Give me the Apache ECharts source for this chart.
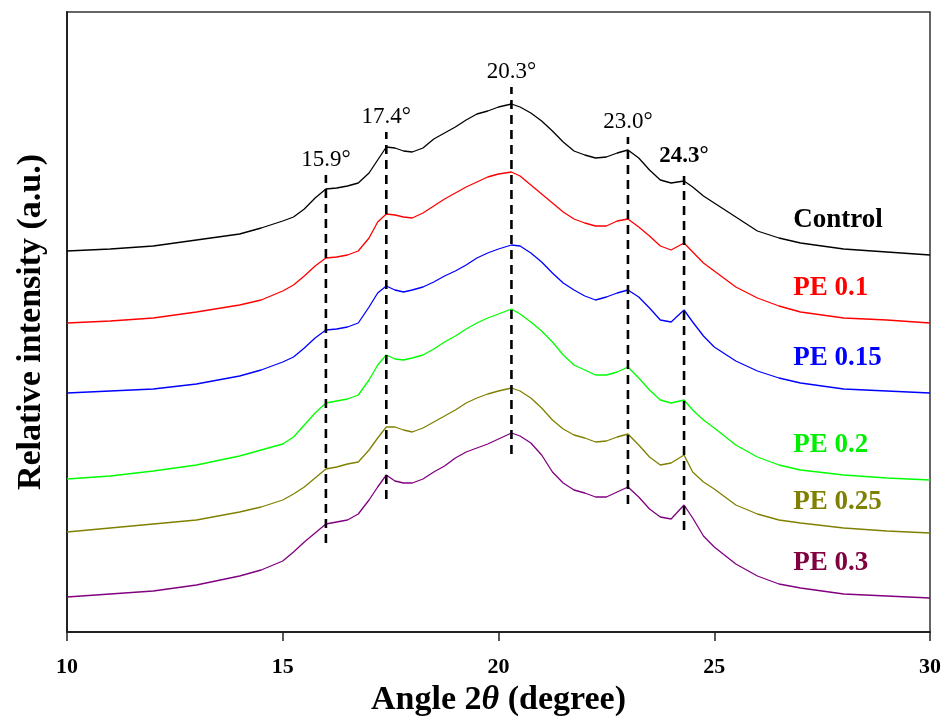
<!DOCTYPE html>
<html>
<head>
<meta charset="utf-8">
<style>html,body{margin:0;padding:0;background:#fff;}#chart{width:944px;height:718px;}</style>
<script src="https://cdn.jsdelivr.net/npm/echarts@6/dist/echarts.min.js"></script>
</head>
<body>
<div id="chart"></div>
<script>
// 2θ positions (degree)
var angles = [10,11,12,13,14,14.5,15,15.25,15.5,15.75,16,16.25,16.5,16.75,17,17.2,17.4,17.6,17.8,18,18.25,18.5,18.75,19,19.25,19.5,19.75,20,20.3,20.5,20.75,21,21.25,21.5,21.75,22,22.25,22.5,22.75,23,23.25,23.5,23.75,24,24.3,24.5,24.75,25,25.5,26,26.5,27,28,29,30];
// relative intensity (a.u., stacked offsets included)
var control = [381,383,386,392,398,404,411,415,423,434,443,444,446,449,459,472,485,484,481,480,484,493,499,505,512,518,521,525,528,525,519,511,501,490,481,477,474,475,479,482,474,462,452,449,451,445,436,429,415,401,394,389,383,380,377];
var pe01 = [309,311,314,320,327,332,341,347,356,366,374,375,377,381,394,410,418,417,415,414,419,426,433,439,445,450,455,458,460,456,447,438,429,420,413,409,406,406,411,413,405,396,386,382,389,380,369,361,345,334,326,320,314,312,309];
var pe015 = [239,241,243,248,256,262,270,275,284,294,302,303,305,309,325,339,346,342,340,342,345,350,356,361,367,374,379,383,387,386,379,370,359,349,342,336,332,335,339,342,335,324,312,310,322,310,296,285,271,261,254,249,243,241,239];
var pe02 = [153,156,161,167,176,182,188,195,207,219,229,231,233,237,252,267,277,273,272,274,277,283,290,296,303,309,314,318,323,318,310,301,290,277,267,262,257,257,260,265,254,242,232,229,232,222,212,204,187,175,167,162,157,154,152];
var pe025 = [100,104,108,112,120,125,132,138,145,154,163,165,168,170,182,194,205,205,202,200,204,210,216,222,229,234,238,241,244,241,234,224,212,203,197,194,190,191,195,198,187,175,167,169,177,160,150,143,127,118,112,109,104,101,99];
var pe03 = [35,38,41,47,56,62,71,80,90,99,108,110,112,118,132,145,157,151,149,149,153,160,166,174,180,184,188,193,199,196,189,177,160,149,142,139,135,135,140,145,135,123,115,113,127,114,96,85,68,56,48,44,38,36,34];

var seriesNames = ['Control','PE 0.1','PE 0.15','PE 0.2','PE 0.25','PE 0.3'];
var seriesColors = ['#000000','#ff0000','#0000ff','#00ff00','#808000','#800080'];
var labelColors = ['#000000','#ff0000','#0000ff','#00ee00','#808000','#800040'];
var labelAngle = 26.83;
var labelLevels = [412,344,274,187,130,69];

// reference peak lines
var peakX = [16.0,17.4,20.3,23.0,24.3];
var peakText = ['15.9°','17.4°','20.3°','23.0°','24.3°'];
var peakBold = [false,false,false,false,true];
var peakTop = [457,500,545,495,460];
var peakBottom = [89,133,178,128,102];

var allData = [control,pe01,pe015,pe02,pe025,pe03];
var FONT = '"Liberation Serif","Times New Roman",serif';

var series = [];
allData.forEach(function(arr, i){
  series.push({
    name: seriesNames[i], type:'line', symbol:'none', smooth:false,
    lineStyle:{color:seriesColors[i], width:1.3},
    data: angles.map(function(a,j){return [a, arr[j]];}),
    z:2
  });
});
peakX.forEach(function(px,i){
  series.push({
    type:'line', symbol:'none', silent:true,
    lineStyle:{color:'#000', width:2.6, type:[9,6]},
    data:[[px, peakBottom[i]], [px, peakTop[i]]],
    z:3
  });
});
// peak labels
series.push({
  type:'scatter', symbolSize:0, silent:true, itemStyle:{opacity:1},
  data: peakX.map(function(px,i){
    return {value:[px, peakTop[i]], label:{show:true, position:'top', distance:4, formatter:peakText[i],
      color:'#000', fontFamily:FONT, fontSize:23, fontWeight: peakBold[i]?'bold':'normal'}};
  }),
  z:4
});
// series name labels
series.push({
  type:'scatter', symbolSize:0, silent:true, itemStyle:{opacity:1},
  data: labelLevels.map(function(v,i){
    return {value:[labelAngle, v], label:{show:true, position:'right', distance:0, formatter:seriesNames[i],
      color:labelColors[i], fontFamily:FONT, fontSize:27, fontWeight:'bold'}};
  }),
  z:4
});

var chart = echarts.init(document.getElementById('chart'), null, {renderer:'canvas'});
chart.setOption({
  animation:false,
  backgroundColor:'#fff',
  grid:{left:67, right:14, top:12, bottom:86, show:true, borderColor:'#333', borderWidth:1.5,
    backgroundColor:'transparent', containLabel:false, outerBoundsMode:'none'},
  xAxis:{
    type:'value', min:10, max:30, interval:5,
    axisLine:{show:true, lineStyle:{color:'#222', width:2}},
    axisTick:{show:true, inside:false, length:9, lineStyle:{color:'#222', width:1.5}},
    axisLabel:{color:'#000', fontFamily:FONT, fontSize:22, fontWeight:'bold', margin:24},
    splitLine:{show:false},
    name:'Angle 2{i|θ} (degree)', nameLocation:'middle', nameGap:50,
    nameTextStyle:{color:'#000', fontFamily:FONT, fontSize:34, fontWeight:'bold',
      rich:{i:{fontStyle:'italic', fontFamily:FONT, fontSize:34, fontWeight:'bold', color:'#000'}}}
  },
  yAxis:{
    type:'value', min:0, max:620,
    axisLine:{show:true, lineStyle:{color:'#222', width:2}},
    axisTick:{show:false}, axisLabel:{show:false}, splitLine:{show:false},
    name:'Relative intensity (a.u.)', nameLocation:'middle', nameGap:19, nameRotate:90,
    nameTextStyle:{color:'#000', fontFamily:FONT, fontSize:34, fontWeight:'bold'}
  },
  series: series
});
</script>
</body>
</html>
